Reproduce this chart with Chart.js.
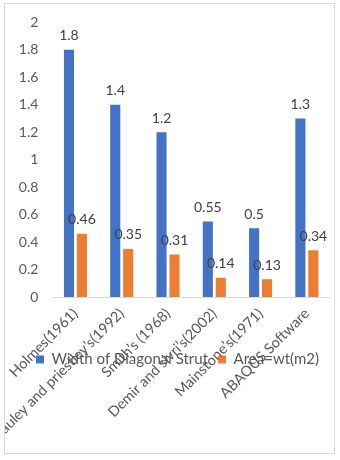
<!DOCTYPE html>
<html>
<head>
<meta charset="utf-8">
<script src="https://cdn.jsdelivr.net/npm/chart.js@4/dist/chart.umd.min.js"></script>
<style>
  html, body { margin: 0; padding: 0; background: #ffffff; }
  #frame {
    position: absolute; left: 4px; top: 3px; width: 331px; height: 451px;
    box-sizing: border-box; border: 1px solid #d9d9d9; overflow: hidden; background: #ffffff;
  }
  #chart { position: absolute; left: -5px; top: -4px; }
</style>
</head>
<body>
<div id="frame"><canvas id="chart" width="340" height="460"></canvas></div>
<script>
// Strut models compared
const categories = [
  "Holmes(1961)",
  "Pauley and priestley’s(1992)",
  "Smith’s (1968)",
  "Demir and sivri’s(2002)",
  "Mainstone’s(1971)",
  "ABAQUS Software"
];
// Width of the equivalent diagonal strut
const strutWidth = [1.8, 1.4, 1.2, 0.55, 0.5, 1.3];
// Strut cross-section area = w·t (m2)
const strutArea = [0.46, 0.35, 0.31, 0.14, 0.13, 0.34];
// Value axis ticks
const yTicks = [0, 0.2, 0.4, 0.6, 0.8, 1, 1.2, 1.4, 1.6, 1.8, 2];

const FONT = "Lato, 'Liberation Sans', sans-serif";
const FS = 14;

// Let tick labels spill outside their (deliberately compact) axis boxes
const noLabelClip = scale => { scale._computeLabelArea = () => undefined; };

// Writes each bar's value just above it
const valueLabels = {
  id: 'valueLabels',
  afterDatasetsDraw(chart) {
    const ctx = chart.ctx;
    ctx.save();
    ctx.font = FS + "px " + FONT;
    ctx.fillStyle = '#404040';
    ctx.textAlign = 'center';
    ctx.textBaseline = 'middle';
    chart.data.datasets.forEach((ds, i) => {
      const meta = chart.getDatasetMeta(i);
      meta.data.forEach((bar, j) => {
        ctx.fillText(String(ds.data[j]), bar.x, bar.y - 14);
      });
    });
    ctx.restore();
  }
};

new Chart(document.getElementById('chart'), {
  type: 'bar',
  data: {
    labels: categories,
    datasets: [
      { label: 'Width of Diagonal Strut', data: strutWidth, backgroundColor: '#4472C4',
        categoryPercentage: 0.56, barPercentage: 0.78 },
      { label: 'Area=wt(m2)', data: strutArea, backgroundColor: '#ED7D31',
        categoryPercentage: 0.56, barPercentage: 0.78 }
    ]
  },
  options: {
    responsive: false,
    animation: false,
    layout: { padding: { left: 25, right: 10, top: 9, bottom: 83 } },
    plugins: {
      tooltip: { enabled: false },
      legend: {
        position: 'bottom',
        labels: {
          font: { family: FONT, size: 15 },
          color: '#595959',
          boxWidth: 8, boxHeight: 8,
          padding: 10
        }
      }
    },
    scales: {
      x: {
        grid: { display: false, drawTicks: false },
        border: { display: true, color: '#d9d9d9' },
        ticks: {
          font: { family: FONT, size: 14.5 },
          color: '#595959',
          minRotation: 45, maxRotation: 45,
          autoSkip: false,
          padding: 8
        },
        afterFit(scale) { scale.height = 45; noLabelClip(scale); }
      },
      y: {
        min: 0, max: 2,
        afterBuildTicks(scale) { scale.ticks = yTicks.map(v => ({ value: v })); },
        grid: { display: false, drawTicks: false },
        border: { display: false },
        ticks: {
          font: { family: FONT, size: FS },
          color: '#595959',
          padding: 14,
          callback: v => String(v)
        },
        afterFit(scale) { scale.width = 23; noLabelClip(scale); }
      }
    }
  },
  plugins: [valueLabels]
});
</script>
</body>
</html>
